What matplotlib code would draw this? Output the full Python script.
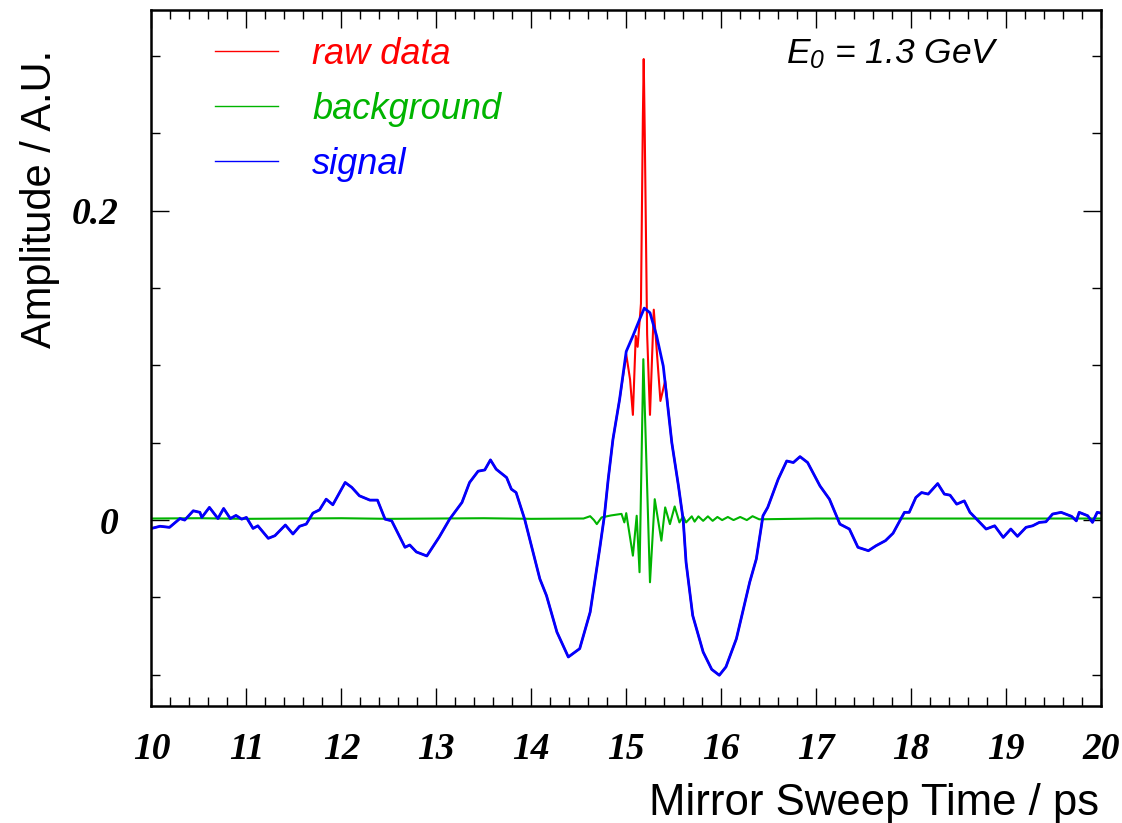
import numpy as np
import matplotlib.pyplot as plt
from matplotlib.ticker import MultipleLocator, FuncFormatter

plt.rcParams['mathtext.fontset'] = 'custom'
plt.rcParams['mathtext.it'] = 'Liberation Sans:italic'
plt.rcParams['mathtext.rm'] = 'Liberation Sans:italic'

# signal (blue)
sig_t = [10.00, 10.09, 10.19, 10.30, 10.35, 10.44, 10.51, 10.53, 10.61, 10.70,
         10.76, 10.83, 10.89, 10.95, 11.00, 11.07, 11.12, 11.23, 11.30, 11.41,
         11.49, 11.56, 11.63, 11.70, 11.77, 11.84, 11.91, 12.04, 12.11, 12.19,
         12.30, 12.38, 12.46, 12.53, 12.67, 12.72, 12.79, 12.90, 13.03, 13.14,
         13.27, 13.35, 13.44, 13.51, 13.57, 13.63, 13.74, 13.79, 13.84, 13.93,
         14.09, 14.16, 14.27, 14.39, 14.51, 14.62, 14.72, 14.77, 14.81, 14.86,
         14.93, 15.00, 15.07, 15.14, 15.19, 15.25, 15.32, 15.39, 15.48, 15.55,
         15.60, 15.63, 15.70, 15.81, 15.90, 15.98, 16.05, 16.16, 16.30, 16.37,
         16.44, 16.49, 16.60, 16.69, 16.76, 16.83, 16.91, 17.04, 17.14, 17.25,
         17.35, 17.44, 17.55, 17.63, 17.73, 17.81, 17.90, 17.93, 17.98, 18.05,
         18.11, 18.18, 18.28, 18.35, 18.41, 18.48, 18.56, 18.62, 18.69, 18.79,
         18.88, 18.97, 19.05, 19.12, 19.21, 19.28, 19.35, 19.42, 19.49, 19.58,
         19.69, 19.74, 19.77, 19.86, 19.91, 19.96, 20.00]
sig_v = [-0.0054, -0.0040, -0.0047, 0.0010, 0.0000, 0.0060, 0.0050, 0.0017, 0.0082, 0.0010,
         0.0075, 0.0010, 0.0030, 0.0006, 0.0017, -0.0054, -0.0037, -0.0118, -0.0101, -0.0032,
         -0.0090, -0.0040, -0.0026, 0.0045, 0.0066, 0.0135, 0.0099, 0.0243, 0.0211, 0.0157,
         0.0129, 0.0129, 0.0006, -0.0005, -0.0176, -0.0161, -0.0206, -0.0232, -0.0110, 0.0006,
         0.0114, 0.0243, 0.0316, 0.0324, 0.0389, 0.0329, 0.0275, 0.0200, 0.0178, 0.0006,
         -0.0380, -0.0488, -0.0724, -0.0885, -0.0831, -0.0595, -0.0187, 0.0028, 0.0264, 0.0522,
         0.0780, 0.1090, 0.1190, 0.1296, 0.1370, 0.1340, 0.1190, 0.0995, 0.0500, 0.0220,
         0.0000, -0.0273, -0.0617, -0.0853, -0.0965, -0.1003, -0.0949, -0.0767, -0.0402, -0.0251,
         0.0028, 0.0082, 0.0264, 0.0382, 0.0372, 0.0410, 0.0372, 0.0221, 0.0135, -0.0026,
         -0.0058, -0.0176, -0.0198, -0.0166, -0.0133, -0.0085, 0.0017, 0.0050, 0.0050, 0.0146,
         0.0178, 0.0168, 0.0236, 0.0168, 0.0161, 0.0103, 0.0124, 0.0050, 0.0006, -0.0058,
         -0.0037, -0.0112, -0.0058, -0.0105, -0.0047, -0.0037, -0.0015, -0.0011, 0.0039, 0.0050,
         0.0024, -0.0005, 0.0050, 0.0028, -0.0015, 0.0050, 0.0045]

# raw data differs from the signal only around the peak
raw_peak_t = [14.93, 15.00, 15.04, 15.07, 15.10, 15.12, 15.155, 15.175, 15.184, 15.195,
              15.22, 15.25, 15.29, 15.36, 15.41, 15.48]
raw_peak_v = [0.078, 0.107, 0.091, 0.068, 0.119, 0.112, 0.140, 0.260, 0.298, 0.250,
              0.120, 0.068, 0.136, 0.077, 0.090, 0.050]

# background (green)
bg_t = [10.0, 10.5, 11.0, 11.5, 12.0, 12.5, 13.0, 13.5, 14.0, 14.5,
        14.55, 14.62, 14.66, 14.69, 14.74, 14.84, 14.95, 14.98, 15.00, 15.07,
        15.11, 15.14, 15.18, 15.25, 15.30, 15.37, 15.41, 15.46, 15.51, 15.56,
        15.60, 15.63, 15.69, 15.72, 15.76, 15.81, 15.86, 15.91, 15.96, 16.01,
        16.07, 16.13, 16.20, 16.27, 16.33, 16.40, 17.0, 17.5, 18.0, 18.5,
        19.0, 19.5, 20.0]
bg_v = [0.0010, 0.0012, 0.0008, 0.0010, 0.0012, 0.0008, 0.0010, 0.0012, 0.0008, 0.0010,
        0.0010, 0.0025, 0.0000, -0.0026, 0.0017, 0.0030, 0.0040, -0.0015, 0.0045, -0.0230,
        0.0028, -0.0337, 0.1040, -0.0402, 0.0135, -0.0133, 0.0082, -0.0026, 0.0088, -0.0015,
        0.0024, -0.0015, 0.0024, -0.0010, 0.0024, -0.0005, 0.0024, -0.0005, 0.0020, 0.0000,
        0.0020, 0.0000, 0.0020, 0.0000, 0.0025, 0.0005, 0.0010, 0.0010, 0.0010, 0.0010,
        0.0010, 0.0010, 0.0010]

sig_t = np.array(sig_t)
sig_v = np.array(sig_v)
before = sig_t < raw_peak_t[0]
after = sig_t > raw_peak_t[-1]
raw_t = np.concatenate([sig_t[before], raw_peak_t, sig_t[after]])
raw_v = np.concatenate([sig_v[before], raw_peak_v, sig_v[after]])

fig = plt.figure(figsize=(11.22, 8.23), dpi=100)
ax = fig.add_axes([0.135, 0.1425, 0.8463, 0.8459])

ax.plot(raw_t, raw_v, color='#ff0000', lw=1.5, label='raw data')
ax.plot(bg_t, bg_v, color='#00b400', lw=1.5, label='background')
ax.plot(sig_t, sig_v, color='#0000ff', lw=2.0, label='signal')

ax.set_xlim(10, 20)
ax.set_ylim(-0.12, 0.33)

ax.xaxis.set_major_locator(MultipleLocator(1))
ax.xaxis.set_minor_locator(MultipleLocator(0.2))
ax.yaxis.set_major_locator(MultipleLocator(0.2))
ax.yaxis.set_minor_locator(MultipleLocator(0.05))
ax.xaxis.set_major_formatter(FuncFormatter(lambda v, p: '%g' % v))
ax.yaxis.set_major_formatter(FuncFormatter(lambda v, p: '%g' % round(v, 3)))

ax.tick_params(which='both', direction='in', top=True, right=True, width=1)
ax.tick_params(which='major', length=13)
ax.tick_params(which='minor', length=6.5)
ax.tick_params(axis='x', which='major', pad=19)
ax.tick_params(axis='y', which='major', pad=24)
for lab in ax.get_xticklabels() + ax.get_yticklabels():
    lab.set_fontfamily('Liberation Serif')
    lab.set_fontweight('bold')
    lab.set_fontstyle('italic')
    lab.set_fontsize(27)
for sp in ax.spines.values():
    sp.set_linewidth(1.8)

fig.text(40 / 1122, 1 - 50 / 823, 'Amplitude / A.U.', rotation=90, ha='center', va='top',
         family='Liberation Sans', fontsize=30)
fig.text(1099 / 1122, 1 - 815 / 823, 'Mirror Sweep Time / ps', ha='right', va='baseline',
         family='Liberation Sans', fontsize=31.5)

ax.text(0.668, 0.923, r'$E_0$ = 1.3 GeV', transform=ax.transAxes, va='baseline',
        family='Liberation Sans', style='italic', fontsize=25.5)

leg = ax.legend(loc='upper left', bbox_to_anchor=(0.0668, 0.9605), frameon=False,
                handlelength=1.75, handletextpad=0.95, labelspacing=0.55,
                borderpad=0, borderaxespad=0, labelcolor='linecolor',
                prop={'family': 'Liberation Sans', 'style': 'italic', 'size': 26})
for line in leg.get_lines():
    line.set_linewidth(1.0)

fig.savefig('out.png', dpi=100)
